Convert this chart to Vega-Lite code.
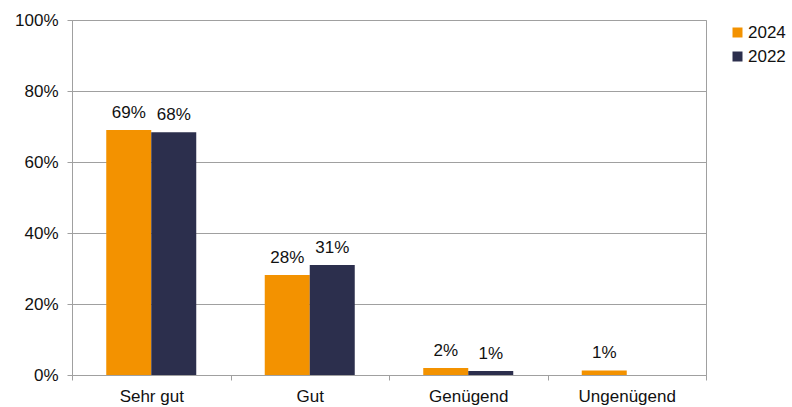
{
  "$schema": "https://vega.github.io/schema/vega-lite/v6.json",
  "autosize": "none",
  "width": 634,
  "height": 355,
  "padding": {"left": 72, "top": 20, "right": 86, "bottom": 32},
  "background": "white",
  "config": {
    "font": "Liberation Sans",
    "view": {"stroke": "#a0a0a0", "strokeWidth": 1},
    "axis": {"labelFont": "Liberation Sans", "labelFontSize": 17, "labelColor": "#111111", "domainColor": "#a0a0a0", "tickColor": "#a0a0a0", "gridColor": "#a0a0a0", "title": null}
  },
  "data": {"values": [
    {"cat": "Sehr gut", "year": "2024", "value": 0.69},
    {"cat": "Sehr gut", "year": "2022", "value": 0.684},
    {"cat": "Gut", "year": "2024", "value": 0.282},
    {"cat": "Gut", "year": "2022", "value": 0.31},
    {"cat": "Genügend", "year": "2024", "value": 0.02},
    {"cat": "Genügend", "year": "2022", "value": 0.011},
    {"cat": "Ungenügend", "year": "2024", "value": 0.013}
  ]},
  "encoding": {
    "x": {"field": "cat", "type": "nominal", "sort": ["Sehr gut", "Gut", "Genügend", "Ungenügend"],
      "scale": {"paddingInner": 0, "paddingOuter": 0},
      "axis": {"labelAngle": 0, "tickBand": "extent", "tickSize": 5, "labelPadding": 8, "grid": false}},
    "xOffset": {"field": "year", "type": "nominal", "scale": {"domain": ["2024", "2022"], "paddingInner": 0, "paddingOuter": 0.761}},
    "y": {"field": "value", "type": "quantitative",
      "scale": {"domain": [0, 1], "nice": false},
      "axis": {"format": ".0%", "values": [0, 0.2, 0.4, 0.6, 0.8, 1], "tickSize": 5, "labelPadding": 9, "grid": true}}
  },
  "layer": [
    {"mark": {"type": "bar"},
     "encoding": {"color": {"field": "year", "type": "nominal",
       "scale": {"domain": ["2024", "2022"], "range": ["#F39200", "#2C2F4D"]},
       "legend": {"title": null, "orient": "none", "legendX": 657, "legendY": 4, "symbolType": "square", "symbolSize": 100, "symbolStrokeWidth": 0, "labelFontSize": 17, "labelFont": "Liberation Sans", "labelColor": "#111111", "labelOffset": 2, "rowPadding": 6, "padding": 0}}}},
    {"mark": {"type": "text", "baseline": "alphabetic", "dy": -12, "fontSize": 17, "font": "Liberation Sans", "color": "#111111"},
     "encoding": {"text": {"field": "value", "type": "quantitative", "format": ".0%"}}}
  ]
}
